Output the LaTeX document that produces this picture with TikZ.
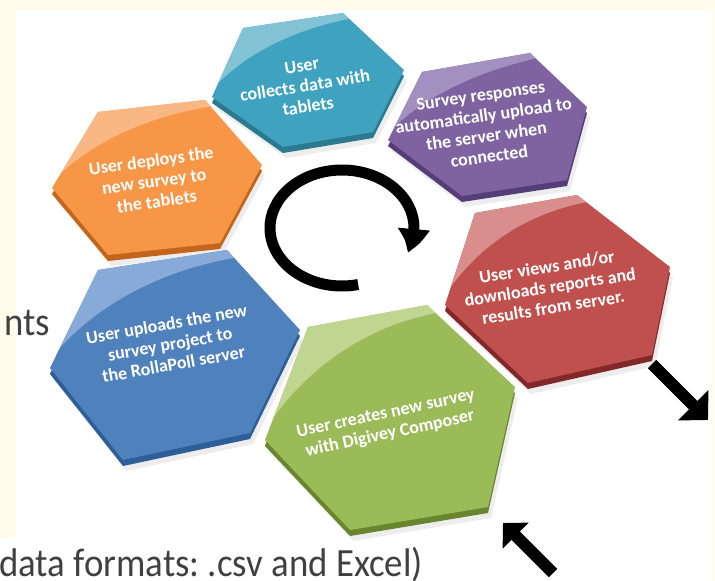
\documentclass[tikz,border=0pt]{standalone}
\usepackage{fontspec}
\setmainfont{Carlito}
\usetikzlibrary{calc}
\usetikzlibrary{arrows.meta}
\usetikzlibrary{bending}

\definecolor{slidebg}{HTML}{FFFCEB}
\definecolor{slidegray}{HTML}{404040}
\definecolor{teal}{HTML}{3FA3BF}      \definecolor{teallight}{HTML}{82C3D6}   \definecolor{tealdark}{HTML}{2B7A90}
\definecolor{orange}{HTML}{F79646}    \definecolor{orangelight}{HTML}{F9B784} \definecolor{orangedark}{HTML}{C4651C}
\definecolor{purple}{HTML}{7F63A1}    \definecolor{purplelight}{HTML}{A38FC0} \definecolor{purpledark}{HTML}{553E78}
\definecolor{red}{HTML}{C0504D}       \definecolor{redlight}{HTML}{D88E8C}    \definecolor{reddark}{HTML}{83282A}
\definecolor{green}{HTML}{9BBB59}     \definecolor{greenlight}{HTML}{BFD590}  \definecolor{greendark}{HTML}{68862E}
\definecolor{blue}{HTML}{4F81BD}      \definecolor{bluelight}{HTML}{88AAD8}   \definecolor{bluedark}{HTML}{2D5E98}

\tikzset{
  steptext/.style={text=white, font=\bfseries\fontsize{18}{20.5}\selectfont, align=center, inner sep=0pt},
  slidetext/.style={text=slidegray, font=\fontsize{40}{46}\selectfont, inner sep=0pt, xscale=0.92},
  bigarrow/.style={line width=12pt, -{Triangle[width=42pt,length=21pt]}},
}

% name, colour, left, top left, top right, right, bottom right, bottom left
\newcommand\cyclehex[8]{%
  \coordinate (#1-l) at #3;
  \coordinate (#1-tl) at #4;
  \coordinate (#1-tr) at #5;
  \coordinate (#1-r) at #6;
  \coordinate (#1-br) at #7;
  \coordinate (#1-bl) at #8;
  \fill[black, opacity=0.07] ([shift={(3pt,-11pt)}]#1-l) -- ([shift={(3pt,-11pt)}]#1-tl) -- ([shift={(3pt,-11pt)}]#1-tr)
    -- ([shift={(3pt,-11pt)}]#1-r) -- ([shift={(3pt,-11pt)}]#1-br) -- ([shift={(3pt,-11pt)}]#1-bl) -- cycle;
  \fill[#2dark] ([yshift=-6pt]#1-l) -- ([yshift=-6pt]#1-tl) -- ([yshift=-6pt]#1-tr)
    -- ([yshift=-6pt]#1-r) -- ([yshift=-6pt]#1-br) -- ([yshift=-6pt]#1-bl) -- cycle;
  \fill[#2] (#1-l) -- (#1-tl) -- (#1-tr) -- (#1-r) -- (#1-br) -- (#1-bl) -- cycle;
  \fill[#2light] ($(#1-l)!0.2!(#1-tl)$) -- (#1-tl) -- (#1-tr) -- ($(#1-tr)!0.1!(#1-r)$)
    .. controls ($(#1-tr)!0.55!(#1-tl)+(0,10)$) and ($(#1-l)!0.6!(#1-tl)+(15,0)$)
    .. ($(#1-l)!0.2!(#1-tl)$) -- cycle;
}

\begin{document}
\frenchspacing
\begin{tikzpicture}[x=1pt,y=-1pt]
  \useasboundingbox (0,0) rectangle (715,581);
  \clip (0,0) rectangle (715,581);
  \fill[slidebg] (0,0) rectangle (715,581);
  \fill[white] (15,10) rectangle (711,581);
  \fill[white] (0,538) rectangle (711,581);

  % slide text behind the picture
  \node[slidetext, anchor=base west] (slide-top) at (4,335) {nts};
  \node[slidetext, anchor=base west] (slide-bottom) at (-1,576) {data formats: .csv and Excel)};

  % the six steps
  \cyclehex{collect}{teal}{(212,97)}{(243,28)}{(343,13)}{(404,70)}{(373,132)}{(283,147)}
  \cyclehex{deploy}{orange}{(52,188)}{(98,112)}{(205,100)}{(262,165)}{(220,243)}{(108,255)}
  \cyclehex{upload}{purple}{(388,140)}{(422,72)}{(530,53)}{(587,107)}{(567,180)}{(462,196)}
  \cyclehex{report}{red}{(445,305)}{(475,213)}{(577,195)}{(670,267)}{(652,355)}{(528,383)}
  \cyclehex{project}{blue}{(50,368)}{(98,270)}{(227,250)}{(300,330)}{(250,433)}{(123,460)}
  \cyclehex{create}{green}{(265,440)}{(308,327)}{(427,305)}{(515,387)}{(488,507)}{(350,530)}

  \node[steptext, rotate=9] (collect-text) at (305,86) {User\\collects data with\\tablets};
  \node[steptext, rotate=8] (deploy-text) at (154,181) {User deploys the\\new survey to\\the tablets};
  \node[steptext, rotate=8] (upload-text) at (485,126) {Survey responses\\automatically upload to\\the server when\\connected};
  \node[steptext, rotate=9] (report-text) at (550,287) {User views and/or\\downloads reports and\\results from server.};
  \node[steptext, rotate=10] (project-text) at (170,344) {User uploads the new\\survey project to\\the RollaPoll server};
  \node[steptext, rotate=12] (create-text) at (388,424) {User creates new survey\\with Digivey Composer};

  % cycle arrow in the middle
  \coordinate (loop) at (342,228);
  \draw[line width=11pt, -{Triangle[bend,width=30pt,length=25pt]}]
    (loop) ++(77:72 and 58) arc[start angle=77, end angle=385, x radius=72, y radius=58];

  % in and out arrows
  \coordinate (out-tail) at (652,364);
  \coordinate (out-tip) at (708,420);
  \draw[bigarrow] (out-tail) -- (out-tip);
  \coordinate (in-tail) at (553,573);
  \coordinate (in-tip) at (503,523);
  \draw[line width=12pt, -{Triangle[width=36pt,length=18pt]}] (in-tail) -- (in-tip);
\end{tikzpicture}
\end{document}
